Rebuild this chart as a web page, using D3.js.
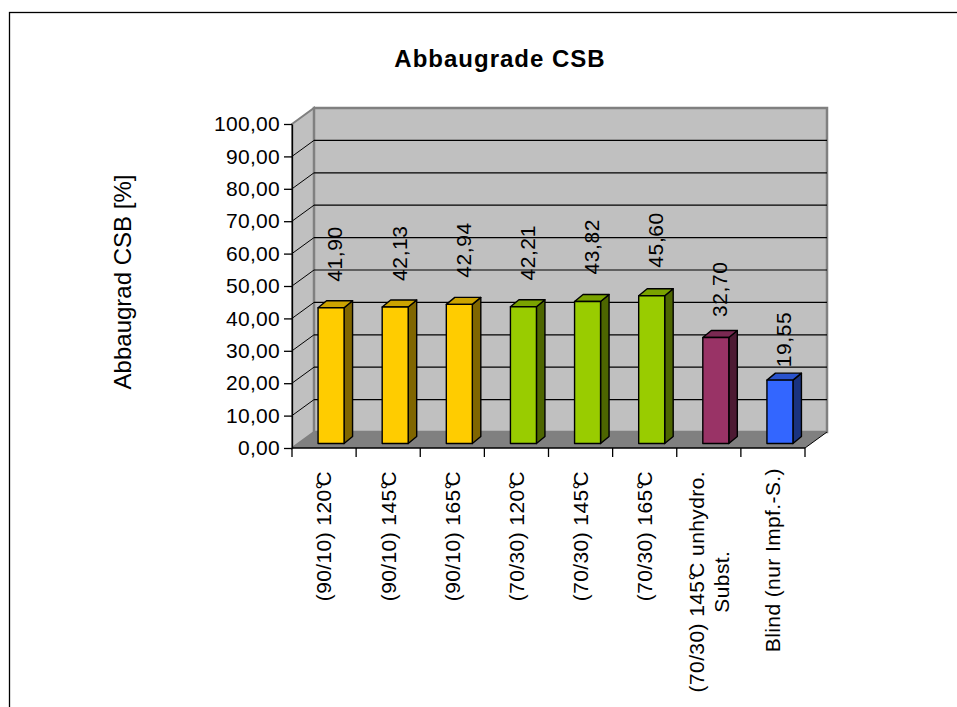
<!DOCTYPE html>
<html>
<head>
<meta charset="utf-8">
<script src="https://cdn.jsdelivr.net/npm/d3@7"></script>
<style>
  html, body { margin: 0; padding: 0; background: #fff; }
  svg { display: block; }
  text { font-family: "Liberation Sans", Arial, sans-serif; fill: #000; }
</style>
</head>
<body>
<svg id="chart" width="957" height="707"></svg>
<script>
// Abbaugrad CSB per Versuchsansatz
const categories = [
  "(90/10) 120°C",
  "(90/10) 145°C",
  "(90/10) 165°C",
  "(70/30) 120°C",
  "(70/30) 145°C",
  "(70/30) 165°C",
  "(70/30) 145°C unhydro.\nSubst.",
  "Blind (nur Impf.-S.)"
];
const values = [41.90, 42.13, 42.94, 42.21, 43.82, 45.60, 32.70, 19.55];
const groups = ["90/10", "90/10", "90/10", "70/30", "70/30", "70/30", "unhydro", "blind"];
const yTicks = [0, 10, 20, 30, 40, 50, 60, 70, 80, 90, 100];
const title = "Abbaugrade CSB";
const yTitle = "Abbaugrad CSB [%]";

// face colours: front, top, side
const palette = {
  "90/10":   ["#FFCC00", "#CCA300", "#806600"],
  "70/30":   ["#99CC00", "#7AA300", "#4D6600"],
  "unhydro": ["#993366", "#7A2952", "#4D1A33"],
  "blind":   ["#3366FF", "#2952CC", "#1A3380"]
};

const svg = d3.select("#chart");
const fmt = v => v.toFixed(2).replace(".", ",");

// plot frame and 3D depth of the walls
const x0 = 292, x1 = 805;
const x = d3.scaleBand().domain(categories).range([x0, x1]).paddingInner(0).paddingOuter(0);
const y = d3.scaleLinear().domain([0, 100]).range([448, 124]);
const DX = 22, DY = -16;            // wall depth
const BX = 8.5, BY = -7;            // bar depth
const BOFF_X = 7, BOFF_Y = -4.5;    // bar front face offset into the depth
const BW = 26;                      // bar front width

// outer chart border
svg.append("rect")
  .attr("x", 9.5).attr("y", 12.5).attr("width", 1200).attr("height", 1200)
  .attr("fill", "none").attr("stroke", "#000").attr("stroke-width", 1.3);

// title
svg.append("text")
  .attr("x", 500).attr("y", 67)
  .attr("text-anchor", "middle")
  .attr("font-size", 24).attr("font-weight", "bold")
  .attr("letter-spacing", 1)
  .text(title);

// y axis title
svg.append("text")
  .attr("transform", `translate(123,282) rotate(-90)`)
  .attr("text-anchor", "middle").attr("dy", "0.35em")
  .attr("font-size", 24)
  .text(yTitle);

const walls = svg.append("g");
const top100 = y(100), base0 = y(0);

// side wall
walls.append("path")
  .attr("d", `M${x0},${top100}L${x0 + DX},${top100 + DY}L${x0 + DX},${base0 + DY}L${x0},${base0}Z`)
  .attr("fill", "#C0C0C0").attr("stroke", "#808080").attr("stroke-width", 2);

// back wall
walls.append("rect")
  .attr("x", x0 + DX).attr("y", top100 + DY)
  .attr("width", x1 - x0).attr("height", base0 - top100)
  .attr("fill", "#C0C0C0").attr("stroke", "#808080").attr("stroke-width", 2.5);

// gridlines on back wall and side wall
const inner = yTicks.filter(t => t > 0 && t < 100);
walls.selectAll("line.grid").data(inner).join("line")
  .attr("class", "grid")
  .attr("x1", x0 + DX).attr("x2", x1 + DX)
  .attr("y1", d => y(d) + DY).attr("y2", d => y(d) + DY)
  .attr("stroke", "#000").attr("stroke-width", 1.2);
walls.selectAll("line.side").data(inner).join("line")
  .attr("class", "side")
  .attr("x1", x0).attr("x2", x0 + DX)
  .attr("y1", d => y(d)).attr("y2", d => y(d) + DY)
  .attr("stroke", "#000").attr("stroke-width", 1);

// floor
walls.append("path")
  .attr("d", `M${x0},${base0}L${x1},${base0}L${x1 + DX},${base0 + DY}L${x0 + DX},${base0 + DY}Z`)
  .attr("fill", "#808080").attr("stroke", "none");
walls.append("line")
  .attr("x1", x1).attr("y1", base0).attr("x2", x1 + DX).attr("y2", base0 + DY)
  .attr("stroke", "#000").attr("stroke-width", 1);

// y axis
const yAxis = svg.append("g")
  .attr("transform", `translate(${x0},0)`)
  .call(d3.axisLeft(y).tickValues(yTicks).tickFormat(fmt).tickSize(8).tickSizeOuter(0).tickPadding(4));
yAxis.select(".domain").attr("stroke", "#000").attr("stroke-width", 1.3);
yAxis.selectAll(".tick line").attr("stroke", "#000").attr("stroke-width", 1.3);
yAxis.selectAll(".tick text")
  .attr("font-size", 21).attr("font-family", "Liberation Sans, Arial, sans-serif")
  .attr("fill", "#000").attr("letter-spacing", 0.3);

// x axis: front floor edge with ticks at category boundaries
const xg = svg.append("g");
xg.append("line")
  .attr("x1", x0).attr("x2", x1).attr("y1", base0).attr("y2", base0)
  .attr("stroke", "#000").attr("stroke-width", 1.3);
const bounds = categories.map(c => x(c)).concat([x.range()[1]]);
xg.selectAll("line.xt").data(bounds).join("line")
  .attr("class", "xt")
  .attr("x1", d => d).attr("x2", d => d)
  .attr("y1", base0).attr("y2", base0 + 9)
  .attr("stroke", "#000").attr("stroke-width", 1.3);

// bars
const bars = svg.append("g").selectAll("g.bar")
  .data(categories.map((c, i) => ({ c, v: values[i], g: groups[i] })))
  .join("g").attr("class", "bar");

bars.each(function (d) {
  const g = d3.select(this);
  const cx = x(d.c) + x.bandwidth() / 2 + BOFF_X;
  const L = cx - BW / 2, R = cx + BW / 2;
  const T = y(d.v) + BOFF_Y, B = y(0) + BOFF_Y;
  const [front, top, side] = palette[d.g];
  const st = { stroke: "#000", "stroke-width": 1.4, "stroke-linejoin": "round" };
  const face = (path, fill) => {
    const p = g.append("path").attr("d", path).attr("fill", fill);
    Object.entries(st).forEach(([k, v]) => p.attr(k, v));
  };
  face(`M${R},${T}L${R + BX},${T + BY}L${R + BX},${B + BY}L${R},${B}Z`, side);
  face(`M${L},${T}L${L + BX},${T + BY}L${R + BX},${T + BY}L${R},${T}Z`, top);
  face(`M${L},${T}L${R},${T}L${R},${B}L${L},${B}Z`, front);
});

// value labels above the bars, rotated
bars.append("text")
  .attr("transform", d => {
    const cx = x(d.c) + x.bandwidth() / 2 + 11;
    return `translate(${cx},${y(d.v * 1.18) - 6}) rotate(-90)`;
  })
  .attr("text-anchor", "start").attr("dy", "0.35em")
  .attr("font-size", 21).attr("letter-spacing", 0.6)
  .text(d => fmt(d.v));

// category labels, rotated, multi-line centred on each other
function addDegreeText(sel, str) {
  // "°C" drawn with the degree sign tucked into the C
  const parts = str.split("°");
  parts.forEach((p, i) => {
    const t = sel.append("tspan").text(p);
    if (i > 0) t.attr("dx", "-0.28em");
    if (i < parts.length - 1) sel.append("tspan").text("°");
  });
}

const xl = svg.append("g");
categories.forEach(c => {
  const lines = c.split("\n");
  const cx = x(c) + x.bandwidth() / 2;
  const g = xl.append("g");
  const texts = lines.map(line => {
    const t = g.append("text").attr("font-size", 21).attr("letter-spacing", 0.4)
      .attr("text-anchor", "middle").attr("dy", "0.35em");
    addDegreeText(t, line);
    return t;
  });
  const maxLen = d3.max(texts, t => t.node().getComputedTextLength());
  const cy = 468 + maxLen / 2;
  texts.forEach((t, i) => {
    const lx = cx + (i - (lines.length - 1) / 2) * 25;
    t.attr("transform", `translate(${lx},${cy}) rotate(-90)`);
  });
});
</script>
</body>
</html>
